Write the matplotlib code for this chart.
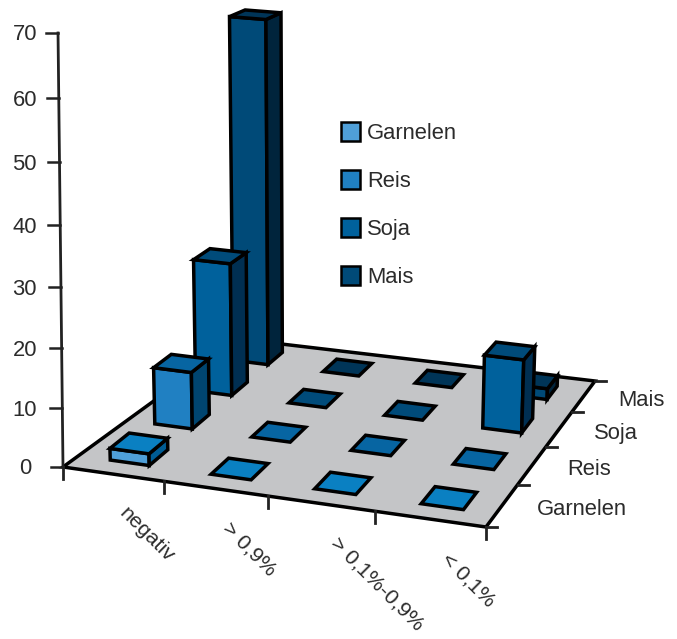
import numpy as np
import matplotlib
matplotlib.use('Agg')
import matplotlib.pyplot as plt
from matplotlib.patches import Polygon, Rectangle

plt.rcParams['font.family'] = ['Liberation Sans', 'DejaVu Sans']

categories = ['negativ', '> 0,9%', '> 0,1%-0,9%', '< 0,1%']
series = ['Garnelen', 'Reis', 'Soja', 'Mais']
garnelen = [2, 0, 0, 0]
reis = [10, 0, 0, 0]
soja = [24, 0, 0, 13]
mais = [63.5, 0, 0, 2]
values = [garnelen, reis, soja, mais]
yticks = [0, 10, 20, 30, 40, 50, 60, 70]

front_cols = ['#4f9fd8', '#2080c2', '#00619c', '#004a78']
top_cols = ['#0a80c2', '#0765a2', '#004b7a', '#003558']
side_cols = ['#005c94', '#004570', '#002f52', '#00243c']
text_col = '#2b2b2b'
fsize = 15.8


def make_proj(corners, vx):
    # plane-to-pixel homography plus a vertical column; vx is where uprights converge
    src = [(0, 0), (4, 0), (4, 4), (0, 4)]
    A = []
    b = []
    for (u, v), (px, py) in zip(src, corners):
        A.append([u, v, 1, 0, 0, 0, -u*px, -v*px])
        A.append([0, 0, 0, u, v, 1, -u*py, -v*py])
        b += [px, py]
    h = np.linalg.solve(np.array(A, float), np.array(b, float))
    return np.array([[h[0], h[1], vx*-0.0008, h[2]],
                     [h[3], h[4], -6.2264, h[5]],
                     [h[6], h[7], -0.0008, 1.0]])


floor_p = make_proj([(63, 467), (486, 527), (595, 381), (239, 339)], 147)
bar_p = make_proj([(64, 467), (486, 527), (591, 381), (230, 337)], 312)


def project(x, y, z=0, P=floor_p):
    q = P @ np.array([x, y, z, 1.0])
    return q[0]/q[2], q[1]/q[2]


def face(pts, col, P=bar_p):
    ax.add_patch(Polygon([project(*p, P=P) for p in pts], closed=True, fc=col, ec='black',
                         lw=2.5, joinstyle='miter'))


fig = plt.figure(figsize=(6.77, 6.39), dpi=100)
ax = fig.add_axes([0, 0, 1, 1])
ax.set_xlim(0, 677)
ax.set_ylim(639, 0)
ax.axis('off')

# floor
face([(0, 0), (4, 0), (4, 4), (0, 4)], '#c4c5c7', floor_p)

# value axis
ax.plot(*zip(project(0, 0, 0), project(0, 0, 70)), color='#222222', lw=2)
for t in yticks:
    px, py = project(0, 0, t)
    ax.plot([px-12, px], [py, py], color='#222222', lw=1.8)
    # the zero label sits a little further out than the others
    lx = 31 if t == 0 else 37
    ax.text(lx, py+2, str(t), ha='right', va='center', fontsize=fsize, color=text_col)

# category axis ticks and labels
for i in range(5):
    px, py = project(i, 0)
    ax.plot([px, px], [py, py+12], color='#222222', lw=2)
    if i > 0:
        ax.text(px-40, py+28, categories[i-1], rotation=-45, rotation_mode='anchor',
                ha='left', va='center_baseline', fontsize=15.4, color=text_col)

# series axis ticks and labels
for j in range(5):
    px, py = project(4, j)
    ax.plot([px, px+11], [py, py], color='#222222', lw=2)
    if j < 4:
        mx, my = project(4, j+0.5)
        ax.text(mx+35, my+4, series[j], ha='left', va='center', fontsize=fsize, color=text_col)

# bars, back row first, left to right
x0, x1 = 0.32, 0.71
y0, y1 = 0.3, 0.72
for j in range(3, -1, -1):
    for i in range(4):
        v = values[j][i]
        a, c = i+x0, i+x1
        d, e = j+y0, j+y1
        if v > 0:
            face([(a, d, 0), (c, d, 0), (c, d, v), (a, d, v)], front_cols[j])
            face([(c, d, 0), (c, e, 0), (c, e, v), (c, d, v)], side_cols[j])
        face([(a, d, v), (c, d, v), (c, e, v), (a, e, v)], top_cols[j])

# legend
for k, name in enumerate(series):
    ly = 131.5+48*k
    ax.add_patch(Rectangle((341, ly-9.5), 19, 19, fc=front_cols[k], ec='black', lw=1.8))
    ax.text(367, ly+2, name, ha='left', va='center', fontsize=fsize, color=text_col)

fig.savefig('out.png', dpi=100)
